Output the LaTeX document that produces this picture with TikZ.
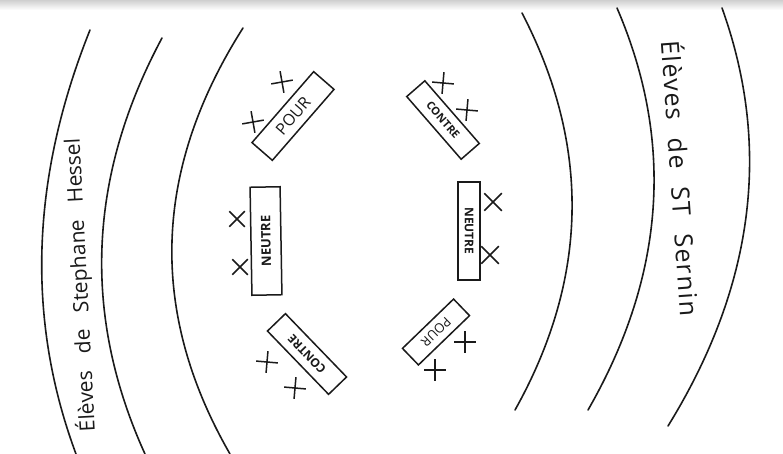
\documentclass[tikz,border=0pt]{standalone}
\usepackage{fontspec}
\setmainfont{Open Sans}
\setsansfont{Open Sans}
\usepackage{xcolor}
\usetikzlibrary{shapes.misc}
\definecolor{ink}{HTML}{1A1A1A}
\definecolor{shadow}{HTML}{CFCFCF}
\pgfdeclareradialshading{vignette}{\pgfpoint{0bp}{0bp}}{color(0bp)=(white); color(46bp)=(white); color(72bp)=(shadow)}
\newcommand{\handfont}{\fontsize{21}{24}\selectfont\spaceskip=17pt\relax}
\newcommand{\widehandfont}{\fontsize{25}{28}\selectfont\addfontfeature{LetterSpace=6}\spaceskip=18pt\relax}
\tikzset{
  row/.style={draw=ink,line width=1.6pt,line cap=round},
  card/.style={draw=ink,line width=1.5pt,inner sep=0pt,text=ink,font=\sffamily\bfseries},
  seat/.style={cross out,draw=ink,line width=1.5pt,minimum size=14pt,inner sep=0pt},
  group/.style={text=ink,inner sep=0pt,font=\handfont}
}
\begin{document}
\begin{tikzpicture}[x=1pt,y=-1pt]
  \useasboundingbox (0,0) rectangle (783,454);
  \shade[shading=vignette] (0,0) rectangle (783,454);
  \shade[top color=shadow,bottom color=white] (0,0) rectangle (783,10);
  % rangs
  \foreach \a/\c/\d/\b in {{90,30}/{30.7,178}/{26,319.3}/{76,454},
      {162,38}/{87.7,176.7}/{82,315.3}/{145,454},
      {243,28}/{152.7,170}/{148.3,312}/{230,454},
      {522,13}/{591,146}/{588.7,278.3}/{515,410},
      {617,8}/{674.7,142}/{665,276}/{588,410},
      {722,8}/{772,147.3}/{754,286.7}/{668,426}}
    \draw[row] (\a) .. controls (\c) and (\d) .. (\b);
  \node[card,rotate=49,minimum width=94pt,minimum height=27pt,font=\sffamily\fontsize{16}{18}\selectfont] (pourhaut) at (293,116) {POUR};
  \node[card,rotate=-49,minimum width=83pt,minimum height=24pt,font=\sffamily\bfseries\fontsize{11}{12}\selectfont] (contrehaut) at (443,120) {CONTRE};
  \node[card,rotate=91,minimum width=108pt,minimum height=30pt,font=\sffamily\bfseries\fontsize{13}{14}\selectfont] (neutregauche) at (266,241) {NEUTRE};
  \node[card,rotate=-90,minimum width=98pt,minimum height=22pt,font=\sffamily\bfseries\fontsize{12}{13}\selectfont] (neutredroite) at (469,231) {NEUTRE};
  \node[card,rotate=134,minimum width=88pt,minimum height=25pt,font=\sffamily\bfseries\fontsize{12}{13}\selectfont] (contrebas) at (307,354) {CONTRE};
  \node[card,rotate=-136,minimum width=71pt,minimum height=23pt,font=\sffamily\fontsize{13}{14}\selectfont] (pourbas) at (436,332) {POUR};
  \node[seat,rotate=55] (ph1) at (282,82) {};
  \node[seat,rotate=55] (ph2) at (253,122) {};
  \node[seat,rotate=40] (ch1) at (443,83) {};
  \node[seat,rotate=40] (ch2) at (467,110) {};
  \node[seat] (ng1) at (237,219) {};
  \node[seat] (ng2) at (240,267) {};
  \node[seat,minimum size=16pt] (nd1) at (493,202) {};
  \node[seat,minimum size=16pt] (nd2) at (490,255) {};
  \node[seat,rotate=40] (cb1) at (267,362) {};
  \node[seat,rotate=40] (cb2) at (295,388) {};
  \node[seat,rotate=45] (pb1) at (465,342) {};
  \node[seat,rotate=45] (pb2) at (435,370) {};
  \node[group,rotate=93] (hessel) at (80,285) {Élèves de Stephane Hessel};
  \node[group,rotate=-86,font=\widehandfont] (sernin) at (682,178) {Élèves de ST Sernin};
\end{tikzpicture}
\end{document}
